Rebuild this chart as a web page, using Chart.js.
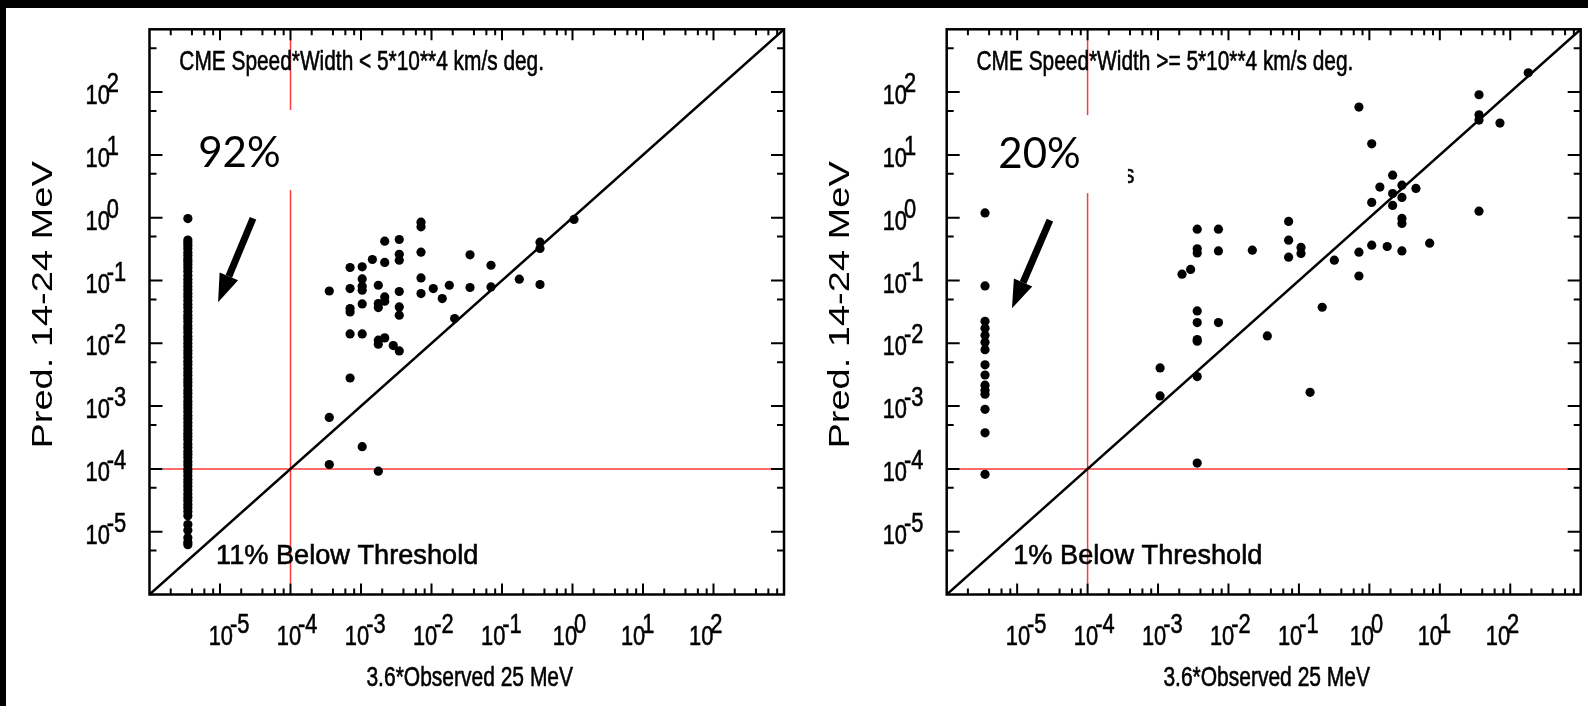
<!DOCTYPE html>
<html lang="en">
  <head>
    <meta charset="UTF-8" />
    <title>Predicted vs observed</title>
    <script src="https://cdn.jsdelivr.net/npm/chart.js@4.4.1/dist/chart.umd.min.js"></script>
    <style>
      body { margin: 0; background: #fff; width: 1588px; height: 706px; overflow: hidden; position: relative; }
      .panel { position: absolute; top: 0; }
      #left { left: 0; }
      #right { left: 794px; }
      .bar { position: absolute; background: #000; }
    </style>
  </head>
  <body>
    <div class="panel" id="left"><canvas id="leftChart" width="794" height="706"></canvas></div>
    <div class="panel" id="right"><canvas id="rightChart" width="794" height="706"></canvas></div>
    <div class="bar" style="left:0;top:0;width:1588px;height:8px"></div>
    <div class="bar" style="left:0;top:0;width:6px;height:706px"></div>

    <script>
      // axis range and tick decades (both axes, log)
      const axisMin = 1e-6;
      const axisMax = 1e3;
      const tickExps = [-5, -4, -3, -2, -1, 0, 1, 2];
      const threshold = 1e-4;

      // events with no observed flux are plotted at this x
      const zeroObsX = 3.5e-6;

      // left panel: CME speed*width < 5e4
      const leftZeroY = [
        0.97, 0.44, 0.4, 0.36, 0.32, 0.28, 0.25, 0.22, 0.2, 0.18, 0.16, 0.14,
        0.12, 0.105, 0.092, 0.081, 0.071, 0.062, 0.055, 0.048, 0.042, 0.037,
        0.032, 0.028, 0.025, 0.022, 0.019, 0.017, 0.015, 0.013, 0.0115, 0.01,
        0.0088, 0.0077, 0.0068, 0.006, 0.0052, 0.0046, 0.004, 0.0035, 0.0031,
        0.0027, 0.0024, 0.0021, 0.0018, 0.0016, 0.0014, 0.0012, 0.00105,
        0.00093, 0.00081, 0.00071, 0.00063, 0.00055, 0.00048, 0.00042,
        0.00037, 0.00033, 0.00029, 0.00025, 0.00022, 0.00019, 0.00017,
        0.00015, 0.00013, 0.000115, 0.0001, 0.000089, 0.000078, 0.000068,
        0.00006, 0.000053, 0.000046, 0.00004, 0.000035, 0.000031, 0.000027,
        0.000024, 0.000021, 0.000018, 0.000013, 0.0000105, 0.000008,
        0.0000068, 0.0000062,
      ];
      const leftObsX = [
        3.55e-4, 7.0e-4, 1.04e-3, 1.45e-3, 2.17e-3, 3.49e-3, 2.17e-3, 3.49e-3,
        3.49e-3, 7.1e-3, 7.1e-3, 7.1e-3, 7.0e-4, 1.04e-3, 1.04e-3, 1.04e-3,
        1.76e-3, 3.49e-3, 7.1e-3, 7.1e-3, 0.0106, 0.0179, 0.0142, 0.0352,
        0.0698, 0.0352, 0.0698, 0.176, 0.346, 0.346, 1.05, 0.346, 7.0e-4,
        7.0e-4, 1.04e-3, 1.76e-3, 1.76e-3, 2.17e-3, 2.17e-3, 3.49e-3, 3.49e-3,
        0.0213, 7.0e-4, 1.04e-3, 1.76e-3, 1.76e-3, 2.17e-3, 2.87e-3, 3.49e-3,
        7.0e-4, 3.55e-4, 1.04e-3, 3.55e-4, 1.76e-3,
      ];
      const leftPredY = [
        0.068, 0.161, 0.165, 0.216, 0.423, 0.45, 0.194, 0.262, 0.211, 0.849,
        0.715, 0.282, 0.0745, 0.106, 0.081, 0.07, 0.084, 0.0668, 0.11, 0.062,
        0.0745, 0.084, 0.0516, 0.256, 0.175, 0.0773, 0.079, 0.105, 0.407,
        0.324, 0.938, 0.0863, 0.0358, 0.0316, 0.0424, 0.043, 0.0371, 0.0548,
        0.0468, 0.0379, 0.028, 0.0248, 0.0141, 0.0141, 0.0112, 0.00966,
        0.0122, 0.0092, 0.00755, 0.0028, 6.6e-4, 2.26e-4, 1.17e-4, 9.2e-5,
      ];

      // right panel: CME speed*width >= 5e4
      const rightZeroY = [
        1.19, 0.082, 0.0224, 0.0174, 0.0134, 0.0104, 0.0079, 0.00454, 0.00313,
        0.00215, 0.00179, 0.00155, 0.00089, 0.000376, 0.000082,
      ];
      const rightObsX = [
        180, 36, 36, 36, 71.4, 0.711, 1.08, 2.14, 1.41, 2.9, 4.58, 2.14, 2.9,
        1.08, 2.14, 2.9, 2.9, 36, 0.0714, 0.0714, 0.107, 0.107, 0.0714,
        3.6e-3, 7.2e-3, 3.6e-3, 3.6e-3, 7.2e-3, 0.0218, 2.19e-3, 2.9e-3,
        0.318, 0.711, 1.08, 1.79, 2.9, 7.18, 0.711, 0.214, 3.6e-3, 3.6e-3,
        7.2e-3, 3.6e-3, 3.6e-3, 0.0356, 1.07e-3, 1.07e-3, 3.6e-3, 0.144,
        3.6e-3,
      ];
      const rightPredY = [
        203, 90.7, 43.5, 35.9, 32.1, 57.8, 15.0, 4.76, 3.07, 3.3, 2.92, 2.43,
        2.1, 1.75, 1.57, 0.973, 0.81, 1.27, 0.871, 0.439, 0.336, 0.269, 0.235,
        0.656, 0.656, 0.319, 0.275, 0.296, 0.304, 0.126, 0.15, 0.211, 0.282,
        0.365, 0.348, 0.296, 0.393, 0.118, 0.0375, 0.0328, 0.0214, 0.0214,
        0.0115, 0.0108, 0.0131, 0.00405, 0.00145, 0.00295, 0.00166, 1.24e-4,
      ];

      const panelTitles = [
        "CME Speed*Width < 5*10**4 km/s deg.",
        "CME Speed*Width >= 5*10**4 km/s deg.",
      ];
      const pctLabels = ["92%", "20%"];
      const belowLabels = ["11% Below Threshold", "1% Below Threshold"];
      const xTitle = "3.6*Observed 25 MeV";
      const yTitle = "Pred. 14-24 MeV";

      const SQ = 0.8; // the original figure is squeezed horizontally
      const FONT = '"Liberation Sans", Arial, sans-serif';

      function sqText(ctx, txt, x, y, size, align, sq) {
        ctx.save();
        ctx.translate(x, y);
        ctx.scale(sq || SQ, 1);
        ctx.font = size + "px " + FONT;
        ctx.textAlign = align;
        ctx.textBaseline = "alphabetic";
        ctx.fillText(txt, 0, 0);
        // slightly heavier, like the blurred original
        ctx.strokeStyle = "#000";
        ctx.lineWidth = 0.6;
        ctx.strokeText(txt, 0, 0);
        ctx.restore();
      }

      const TICK_FONT = 28, TICK_SQ = 0.78;

      function powLabel(ctx, x, y, e, centre) {
        ctx.font = TICK_FONT + "px " + FONT;
        const w1 = ctx.measureText("10").width * TICK_SQ;
        const we = ctx.measureText(String(e)).width * TICK_SQ;
        const total = w1 - 3 + we;
        const x0 = centre ? x - total / 2 : x;
        sqText(ctx, "10", x0, y, TICK_FONT, "left", TICK_SQ);
        sqText(ctx, String(e), x0 + w1 - 3, y - 12, TICK_FONT, "left", TICK_SQ);
      }

      function arrow(ctx, x0, y0, x1, y1) {
        const ang = Math.atan2(y1 - y0, x1 - x0);
        const head = 28, half = 10;
        const bx = x1 - head * Math.cos(ang), by = y1 - head * Math.sin(ang);
        ctx.save();
        ctx.strokeStyle = "#000";
        ctx.lineWidth = 7;
        ctx.beginPath();
        ctx.moveTo(x0, y0);
        ctx.lineTo(bx, by);
        ctx.stroke();
        ctx.fillStyle = "#000";
        ctx.beginPath();
        ctx.moveTo(x1, y1);
        ctx.lineTo(bx + half * Math.sin(ang), by - half * Math.cos(ang));
        ctx.lineTo(bx - half * Math.sin(ang), by + half * Math.cos(ang));
        ctx.closePath();
        ctx.fill();
        ctx.restore();
      }

      const framePlugin = {
        id: "frame",
        afterDatasetsDraw(chart, args, p) {
          const { ctx, chartArea: a } = chart;
          const x = chart.scales.x, y = chart.scales.y;
          const px = (v) => x.getPixelForValue(v);
          const py = (v) => y.getPixelForValue(v);
          ctx.save();

          // white text box pasted over the plot
          ctx.fillStyle = "#fff";
          ctx.fillRect(px(p.box[0]), py(p.box[3]), px(p.box[1]) - px(p.box[0]), py(p.box[2]) - py(p.box[3]));

          // leftover letter peeking out of the box
          if (p.stray) {
            ctx.save();
            ctx.beginPath();
            ctx.rect(px(p.box[1]), a.top, 40, 300);
            ctx.clip();
            ctx.fillStyle = "#000";
            sqText(ctx, p.stray.t, px(p.stray.x), py(p.stray.y), 26, "left");
            ctx.restore();
          }

          // frame
          ctx.strokeStyle = "#000";
          ctx.lineWidth = 2.5;
          ctx.strokeRect(a.left, a.top, a.right - a.left, a.bottom - a.top);

          // inward ticks
          ctx.lineWidth = 2;
          ctx.beginPath();
          for (let e = -6; e <= 2; e++) {
            for (const m of [1, 2, 4, 6, 8]) {
              const v = m * Math.pow(10, e);
              if (v <= axisMin * 1.001 || v >= axisMax * 0.999) continue;
              const len = m === 1 ? 11 : 6;
              const X = px(v);
              ctx.moveTo(X, a.bottom); ctx.lineTo(X, a.bottom - len);
              ctx.moveTo(X, a.top); ctx.lineTo(X, a.top + len);
            }
            for (const m of [1, 5]) {
              const v = m * Math.pow(10, e);
              if (v <= axisMin * 1.001 || v >= axisMax * 0.999) continue;
              const len = m === 1 ? 13 : 7;
              const Y = py(v);
              ctx.moveTo(a.left, Y); ctx.lineTo(a.left + len, Y);
              ctx.moveTo(a.right, Y); ctx.lineTo(a.right - len, Y);
            }
          }
          ctx.stroke();

          // tick labels
          ctx.fillStyle = "#000";
          for (const e of tickExps) {
            powLabel(ctx, px(Math.pow(10, e)) + 9 - (e + 5) * 2.4, a.bottom + 50, e, true);
            powLabel(ctx, a.left - 64, py(Math.pow(10, e)) + 12, e, false);
          }

          // axis titles
          sqText(ctx, xTitle, (a.left + a.right) / 2 + 3, a.bottom + 91, 28, "center", 0.75);
          ctx.save();
          ctx.translate(a.left - 98, (a.top + a.bottom) / 2 - 7);
          ctx.rotate(-Math.PI / 2);
          ctx.scale(1, SQ * 0.95);
          ctx.font = "38px " + FONT;
          ctx.textAlign = "center";
          ctx.fillText(yTitle, 0, 0);
          ctx.restore();

          // in-plot texts
          sqText(ctx, p.title, px(2.65e-6), py(224), 28, "left", 0.745);
          sqText(ctx, p.below, px(8.8e-6), py(3.1e-6), 28, "left", 0.97);

          ctx.font = '42px Lato, "Open Sans", sans-serif';
          ctx.textAlign = "left";
          ctx.fillText(p.pct, px(p.pctAt[0]), py(p.pctAt[1]));

          arrow(ctx, px(p.arrow[0]), py(p.arrow[1]), px(p.arrow[2]), py(p.arrow[3]));
          ctx.restore();
        },
      };

      function pts(xs, ys) {
        return ys.map((v, i) => ({ x: Array.isArray(xs) ? xs[i] : xs, y: v }));
      }

      function makePanel(id, zeroY, obsX, predY, extra, padLeft, padRight) {
        return new Chart(id, {
          type: "scatter",
          data: {
            datasets: [
              {
                data: pts(zeroObsX, zeroY).concat(pts(obsX, predY)),
                backgroundColor: "#000",
                borderWidth: 0,
                pointRadius: 4.6,
                order: 0,
              },
              {
                type: "line",
                data: [{ x: axisMin, y: axisMin }, { x: axisMax, y: axisMax }],
                borderColor: "#000",
                borderWidth: 2.5,
                pointRadius: 0,
                order: 1,
              },
              {
                type: "line",
                data: [{ x: 1.55e-6, y: threshold }, { x: axisMax, y: threshold }],
                borderColor: "#ff3a3a",
                borderWidth: 1.5,
                pointRadius: 0,
                order: 2,
              },
              {
                type: "line",
                data: [{ x: threshold, y: 1.5e-6 }, { x: threshold, y: 680 }],
                borderColor: "#ff3a3a",
                borderWidth: 1.5,
                pointRadius: 0,
                order: 2,
              },
            ],
          },
          options: {
            responsive: false,
            animation: false,
            layout: { padding: { left: padLeft, right: padRight, top: 29.3, bottom: 111.5 } },
            plugins: { legend: { display: false }, tooltip: { enabled: false }, frame: extra },
            scales: {
              x: { type: "logarithmic", min: axisMin, max: axisMax, display: false },
              y: { type: "logarithmic", min: axisMin, max: axisMax, display: false },
            },
          },
          plugins: [framePlugin],
        });
      }

      makePanel("leftChart", leftZeroY, leftObsX, leftPredY, {
        title: panelTitles[0],
        below: belowLabels[0],
        pct: pctLabels[0],
        pctAt: [4.9e-6, 6.5],
        box: [3.2e-6, 1.36e-4, 2.75, 51.8],
        arrow: [2.94e-5, 0.98, 9.4e-6, 0.045],
      }, 149.5, 10);

      makePanel("rightChart", rightZeroY, rightObsX, rightPredY, {
        title: panelTitles[1],
        below: belowLabels[1],
        pct: pctLabels[1],
        pctAt: [5.4e-6, 6.2],
        box: [2.75e-6, 3.74e-4, 2.46, 43],
        stray: { t: "s", x: 3.29e-4, y: 3.56 },
        arrow: [2.92e-5, 0.914, 8.45e-6, 0.0362],
      }, 152.7, 7.3);
    </script>
  </body>
</html>
